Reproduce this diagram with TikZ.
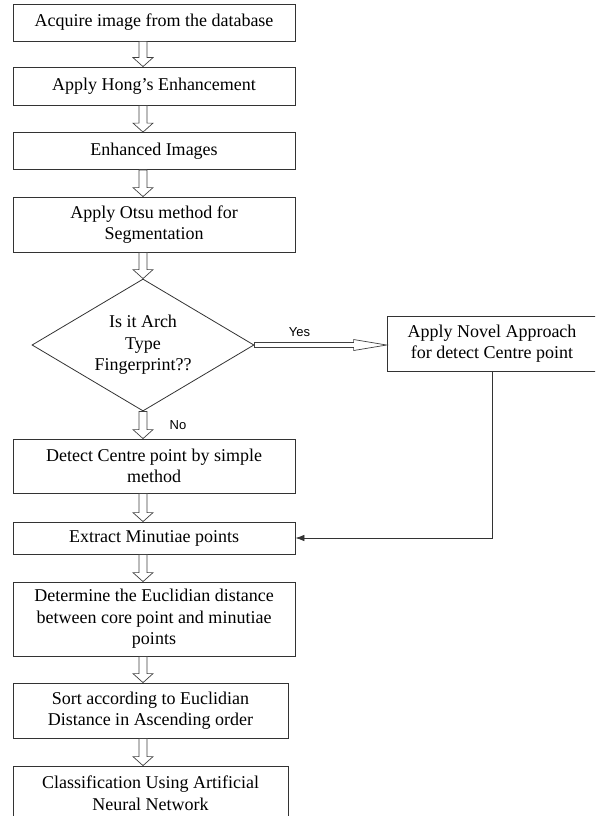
\documentclass[tikz,border=0pt]{standalone}
\usepackage{fontspec}
\setmainfont{Liberation Serif}
\newfontfamily\labelfont{Liberation Sans}
\usetikzlibrary{shapes.geometric,calc,arrows.meta}

\newcommand{\flowarrow}[2]{%
  \draw[line width=0.7pt, draw=black!75, fill=white] let \p1=(#1.south), \p2=(#2.north), \p3=(dec.center) in
    (\x3-4pt,\y1) -- (\x3-4pt,\y2+9pt) -- (\x3-10pt,\y2+9pt) -- (\x3,\y2)
    -- (\x3+10pt,\y2+9pt) -- (\x3+4pt,\y2+9pt) -- (\x3+4pt,\y1) -- cycle;}

\begin{document}
\begin{tikzpicture}[x=1pt, y=1pt,
    box/.style={draw=black!80, line width=0.8pt, fill=white, minimum width=282pt, inner sep=0pt,
      align=center, font=\fontsize{18}{21.6}\selectfont},
    lab/.style={font=\labelfont\fontsize{13}{15}\selectfont, inner sep=0pt}
    ]
    \useasboundingbox (0,0) rectangle (595,-816);
    \clip (0,0) rectangle (595,-816);
    \node[box, minimum height=37pt] (acq) at (154,-22.5) {Acquire image from the database};
    \node[box, minimum height=38pt] (hong) at (154,-86) {Apply Hong's Enhancement};
    \node[box, minimum height=37pt] (enh) at (154,-151) {Enhanced Images};
    \node[box, minimum height=55pt] (otsu) at (154,-224.5) {Apply Otsu method for\\Segmentation};
    \node[box, shape=diamond, minimum width=222pt, minimum height=132pt, aspect=1.7] (dec) at (143,-345)
      {Is it Arch\\Type\\Fingerprint??};
    \node[box, minimum width=210pt, minimum height=55pt] (nov) at (492,-343.5)
      {Apply Novel Approach\\for detect Centre point};
    \node[box, minimum height=54pt] (simple) at (154,-466) {Detect Centre point by simple\\method};
    \node[box, minimum height=32pt] (ext) at (154,-538) {Extract Minutiae points};
    \node[box, minimum height=74pt] (dist) at (154,-619)
      {Determine the Euclidian distance\\between core point and minutiae\\points};
    \node[box, minimum width=275pt, minimum height=55pt] (sort) at (150.5,-710.5)
      {Sort according to Euclidian\\Distance in Ascending order};
    \node[box, minimum width=275pt, minimum height=54pt] (ann) at (150.5,-793)
      {Classification Using Artificial\\Neural Network};
    \node[lab] (yes) at (299.5,-332) {Yes};
    \node[lab] (no) at (178,-425.5) {No};
    \flowarrow{acq}{hong}
    \flowarrow{hong}{enh}
    \flowarrow{enh}{otsu}
    \flowarrow{otsu}{dec}
    \flowarrow{dec}{simple}
    \flowarrow{simple}{ext}
    \flowarrow{ext}{dist}
    \flowarrow{dist}{sort}
    \flowarrow{sort}{ann}
    \draw[line width=0.7pt, draw=black!75, fill=white] let \p1=(dec.east), \p2=(nov.west) in
      (\x1,\y1+2.5pt) -- (\x2-33pt,\y1+2.5pt) -- (\x2-33pt,\y1+5.5pt) -- (\x2,\y1)
      -- (\x2-33pt,\y1-5.5pt) -- (\x2-33pt,\y1-2.5pt) -- (\x1,\y1-2.5pt) -- cycle;
    \draw[line width=0.8pt, draw=black!80, -{Latex[length=9pt, width=6.5pt]}] (nov.south) |- (ext.east);
  \end{tikzpicture}
\end{document}
